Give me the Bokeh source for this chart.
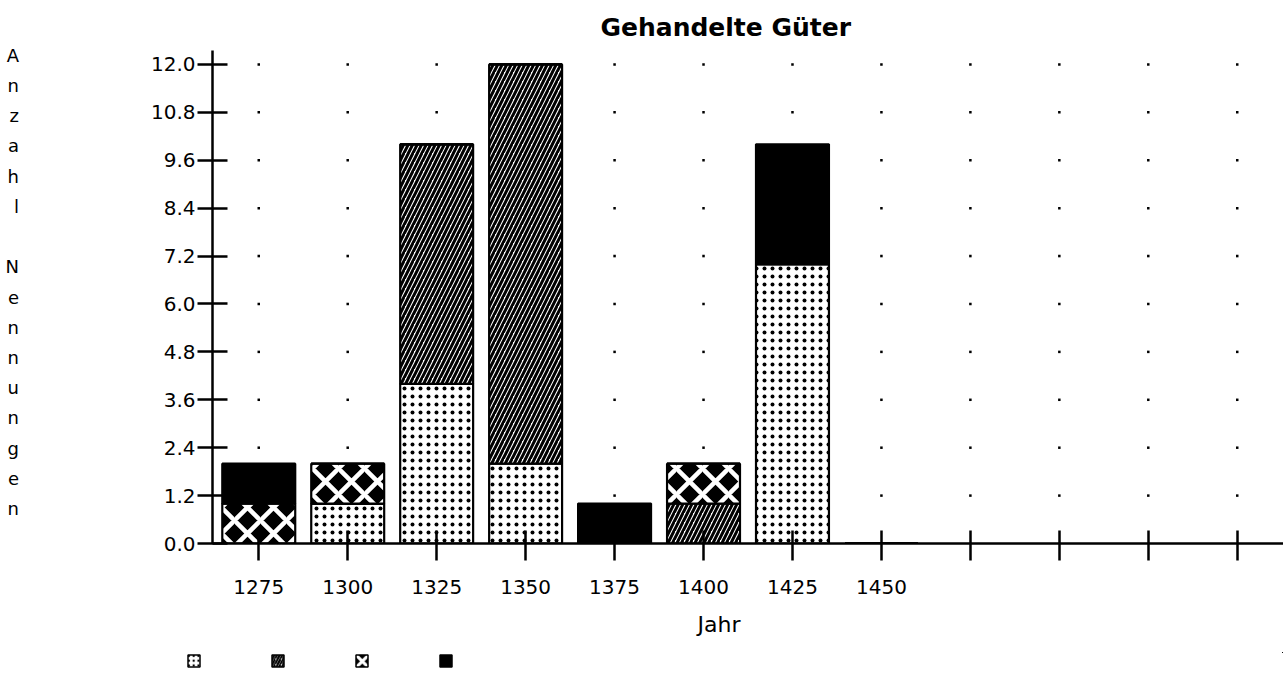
from bokeh.plotting import figure
from bokeh.layouts import column
from bokeh.models import (ColumnDataSource, FixedTicker, Legend, LegendItem, Title, Range1d)
from bokeh.embed import file_html
from bokeh.resources import INLINE

# ---------------- data ----------------
years = ["1275", "1300", "1325", "1350", "1375", "1400", "1425", "1450"]
empty_slots = 4  # unlabeled tick positions to the right
stipple = [0, 1, 4, 2, 0, 0, 7, 0]
hatched = [0, 0, 6, 10, 0, 1, 0, 0]
diamond = [1, 1, 0, 0, 0, 1, 0, 0]
solid = [1, 0, 0, 0, 1, 0, 3, 0]
y_ticks = [0.0, 1.2, 2.4, 3.6, 4.8, 6.0, 7.2, 8.4, 9.6, 10.8, 12.0]
y_tick_labels = ["0.0", "1.2", "2.4", "3.6", "4.8", "6.0", "7.2", "8.4", "9.6", "10.8", "12.0"]
chart_title = "Gehandelte Güter"
x_title = "Jahr"
y_title = "Anzahl Nennungen"

series = ["stipple", "hatched", "diamond", "solid"]

# ---------------- styles ----------------
fills = ["white", "white", "black", "black"]
hatch_patterns = ["dot", "right_diagonal_line", "diagonal_cross", " "]
hatch_colors = ["black", "black", "white", "black"]
hatch_scales = [8, 9, 26, 12]
hatch_weights = [2.2, 3, 4.5, 1]

n_slots = len(years) + empty_slots
x_idx = list(range(len(years)))
src = ColumnDataSource(dict(x=x_idx, stipple=stipple, hatched=hatched,
                            diamond=diamond, solid=solid))

FONT = "DejaVu Sans"
W = 1283
LEG_H = 28
H = 680 - LEG_H

p = figure(width=W, height=H, output_backend="svg", toolbar_location=None,
           x_range=Range1d(-0.52, n_slots - 0.48), y_range=Range1d(0, 12.35),
           min_border_left=212, min_border_right=0, min_border_top=50,
           min_border_bottom=H - 543)
p.outline_line_color = None
p.xgrid.visible = False
p.ygrid.visible = False
p.background_fill_color = "white"
p.border_fill_color = "white"

# dotted grid at tick intersections
gx, gy = [], []
for t in y_ticks[1:]:
    for i in range(n_slots):
        gx.append(i)
        gy.append(t)
p.scatter(gx, gy, marker="square", size=2.5, color="black", line_width=0)

p.vbar_stack(series, x="x", width=0.82, source=src,
             fill_color=fills, line_color="black", line_width=2.2,
             hatch_pattern=hatch_patterns, hatch_color=hatch_colors,
             hatch_scale=hatch_scales, hatch_weight=hatch_weights)

# axes
p.xaxis.ticker = FixedTicker(ticks=list(range(n_slots)))
overrides = {i: (years[i] if i < len(years) else "") for i in range(n_slots)}
p.xaxis.major_label_overrides = overrides
p.xaxis.axis_line_width = 2.5
p.xaxis.major_tick_line_width = 2.5
p.xaxis.major_tick_in = 13
p.xaxis.major_tick_out = 17
p.xaxis.minor_tick_line_color = None
p.xaxis.major_label_standoff = 19
p.xaxis.major_label_text_font = FONT
p.xaxis.major_label_text_font_size = "20px"
p.xaxis.major_label_text_color = "black"

p.yaxis.ticker = FixedTicker(ticks=y_ticks)
p.yaxis.major_label_overrides = {t: l for t, l in zip(y_ticks, y_tick_labels)}
p.yaxis.axis_line_width = 2.5
p.yaxis.major_tick_line_width = 2.5
p.yaxis.major_tick_in = 15
p.yaxis.major_tick_out = 15
p.yaxis.minor_tick_line_color = None
p.yaxis.major_label_standoff = 2
p.yaxis.major_label_text_font = FONT
p.yaxis.major_label_text_font_size = "20px"
p.yaxis.major_label_text_color = "black"
p.yaxis.axis_label = "\n".join(ch for ch in y_title) + "\n "
p.yaxis.axis_label_orientation = "horizontal"
p.yaxis.axis_label_text_font = FONT
p.yaxis.axis_label_text_font_style = "normal"
p.yaxis.axis_label_text_font_size = "18px"
p.yaxis.axis_label_text_line_height = 1.44
p.yaxis.axis_label_standoff = 129
p.yaxis.axis_label_text_color = "black"

p.title.text = chart_title
p.title.align = "left"
p.title.offset = 388
p.title.text_font = FONT
p.title.text_font_style = "bold"
p.title.text_font_size = "25px"
p.title.text_color = "black"
p.title.standoff = 18

p.add_layout(Title(text=x_title, align="left", offset=485, text_font=FONT,
                   text_font_style="normal", text_font_size="22px",
                   text_color="black", standoff=27),
             "below")

# ---------------- legend strip (swatches only, as in the original) ----------------
# The same stacked bars are drawn here, but the strip's ranges keep them out of view,
# so only the legend swatches show.
leg = figure(width=W, height=LEG_H, output_backend="svg", toolbar_location=None,
             x_axis_type=None, y_axis_type=None,
             x_range=Range1d(-20, -19), y_range=Range1d(-2, -1),
             min_border=0)
leg.outline_line_color = None
leg.background_fill_color = "white"
leg.border_fill_color = "white"

unaligned = False
if "frame_align" in leg.properties():
    leg.frame_align = False
    p.frame_align = False
    unaligned = True

leg_renderers = leg.vbar_stack(series, x="x", width=0.82, source=src,
                               fill_color=fills, line_color="black", line_width=1.5,
                               hatch_pattern=hatch_patterns, hatch_color=hatch_colors,
                               hatch_scale=[s * 0.6 for s in hatch_scales],
                               hatch_weight=[w * 0.7 for w in hatch_weights])
legend = Legend(items=[LegendItem(label=" ", renderers=[r]) for r in leg_renderers],
                orientation="horizontal", location=((186 if unaligned else 0), 12),
                glyph_width=15, glyph_height=15, label_width=50, label_height=15,
                label_standoff=5, spacing=14, padding=0, margin=0,
                border_line_color=None, background_fill_alpha=0,
                label_text_font_size="8px")
leg.add_layout(legend, "center")

layout = column(p, leg, spacing=0)
open("out.html", "w").write(file_html(layout, INLINE))
